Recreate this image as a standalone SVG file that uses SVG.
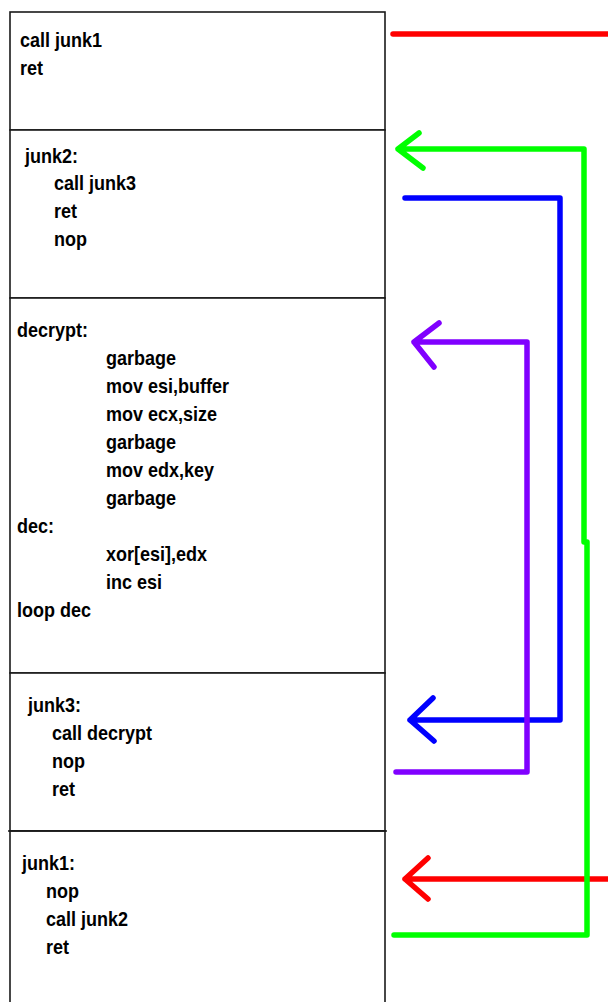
<svg xmlns="http://www.w3.org/2000/svg" width="608" height="1002" viewBox="0 0 608 1002">
<style>
.box{fill:#fff;stroke:#1a1a1a;stroke-width:1.6}
.t{font-family:"Liberation Sans",Arial,sans-serif;font-weight:bold;font-size:20px;fill:#000}
.c{fill:none;stroke-width:5.5;stroke-linecap:round;stroke-linejoin:round}
</style>
<rect width="608" height="1002" fill="#fff"/>
<g id="box1">
<rect class="box" x="10" y="12" width="375" height="118"/>
<g transform="scale(0.9,1)">
<text class="t" x="22.2" y="47">call junk1</text>
<text class="t" x="22.2" y="75">ret</text>
</g>
</g>
<g id="box2">
<rect class="box" x="10" y="130" width="375" height="168"/>
<g transform="scale(0.9,1)">
<text class="t" x="27.8" y="163">junk2:</text>
<text class="t" x="60" y="190">call junk3</text>
<text class="t" x="60" y="218">ret</text>
<text class="t" x="60" y="246">nop</text>
</g>
</g>
<g id="box3">
<rect class="box" x="10" y="298" width="375" height="375"/>
<g transform="scale(0.9,1)">
<text class="t" x="18.9" y="337">decrypt:</text>
<text class="t" x="117.8" y="365">garbage</text>
<text class="t" x="117.8" y="393">mov esi,buffer</text>
<text class="t" x="117.8" y="421">mov ecx,size</text>
<text class="t" x="117.8" y="449">garbage</text>
<text class="t" x="117.8" y="477">mov edx,key</text>
<text class="t" x="117.8" y="505">garbage</text>
<text class="t" x="18.9" y="533">dec:</text>
<text class="t" x="117.8" y="561">xor[esi],edx</text>
<text class="t" x="117.8" y="589">inc esi</text>
<text class="t" x="18.9" y="617">loop dec</text>
</g>
</g>
<g id="box4">
<rect class="box" x="10" y="673" width="375" height="158"/>
<g transform="scale(0.9,1)">
<text class="t" x="31.1" y="712">junk3:</text>
<text class="t" x="57.8" y="740">call decrypt</text>
<text class="t" x="57.8" y="768">nop</text>
<text class="t" x="57.8" y="796">ret</text>
</g>
</g>
<g id="box5">
<rect class="box" x="10" y="831" width="375" height="190"/>
<line x1="8" y1="831" x2="387" y2="831" stroke="#1a1a1a" stroke-width="1.6"/>
<g transform="scale(0.9,1)">
<text class="t" x="24.4" y="870">junk1:</text>
<text class="t" x="51.1" y="898">nop</text>
<text class="t" x="51.1" y="926">call junk2</text>
<text class="t" x="51.1" y="954">ret</text>
</g>
</g>
<g id="connectors">
<path class="c" stroke="#ff0000" d="M393,34 H612"/>
<path class="c" stroke="#ff0000" d="M612,879 H405 M428,858 L405,879 L428,899"/>
<path class="c" stroke="#00ff00" d="M394,935 H587 V542 H584 V149 H398 M419,133 L398,149 L423,168"/>
<path class="c" stroke="#0000ff" d="M405,198 H560 V720 H410 M433,698 L410,720 L434,741"/>
<path class="c" stroke="#8000ff" d="M396,772 H527 V342 H414 M439,323 L414,342 L434,367"/>
</g>
</svg>
